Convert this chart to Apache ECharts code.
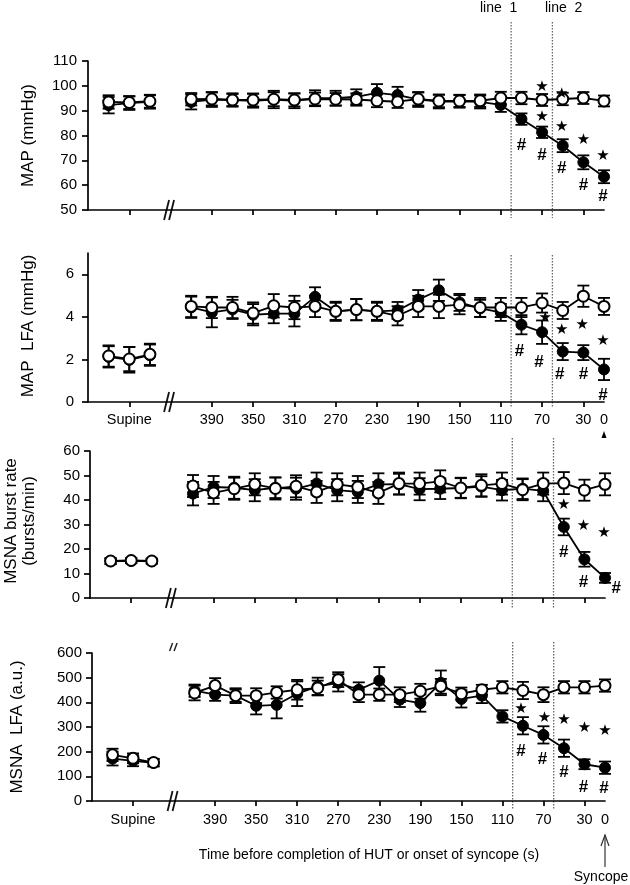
<!DOCTYPE html>
<html><head><meta charset="utf-8">
<script src="https://cdn.jsdelivr.net/npm/echarts@6/dist/echarts.min.js"></script>
<style>html,body{margin:0;padding:0;background:#fff}#c{width:630px;height:885px}</style>
</head><body><div id="c"></div>
<script>
// ---------- categories / ticks ----------
const supineSlots = [490, 470, 450];
const tiltLabels = ['410','390','370','350','330','310','290','270','250','230','210','190','170','150','130','110','90','70','50','30','0'];
const xTickValues = [470, 390, 350, 310, 270, 230, 190, 150, 110, 70, 30];
const xLabelValues = [470, 390, 350, 310, 270, 230, 190, 150, 110, 70, 30, 10];
const refLineSlots = [100, 60];
const breakSlot = 430;

// ---------- MAP (mmHg) ----------
const mapSupOpen = [93.5, 93.3, 93.8];
const mapSupFilled = [92.2, 93.0, 93.5];
const mapSupOpenErr = [2.7, 2.6, 2.6];
const mapSupFilledErr = [3.3, 2.7, 2.7];
const mapOpen = [94.6, 94.7, 94.3, 94.3, 94.6, 94.3, 94.7, 94.6, 94.5, 94.0, 93.6, 94.7, 93.9, 93.9, 94.0, 95.1, 95.1, 94.3, 94.7, 95.1, 93.9];
const mapFilled = [93.5, 94.5, 94.3, 94.0, 94.5, 94.0, 95.0, 95.0, 95.6, 97.2, 96.3, 94.5, 93.7, 93.8, 93.5, 92.3, 86.6, 81.3, 75.9, 69.2, 63.4];
const mapOpenErr = [2.5, 2.6, 2.4, 2.6, 2.8, 2.6, 2.6, 2.5, 2.5, 2.6, 2.5, 2.6, 2.5, 2.4, 2.5, 2.5, 2.5, 2.4, 2.5, 2.4, 2.2];
const mapFilledErr = [3.0, 3.0, 2.7, 2.8, 3.5, 3.0, 3.2, 3.0, 3.0, 3.5, 3.3, 3.0, 2.8, 2.6, 2.6, 2.8, 2.3, 2.3, 2.6, 2.8, 2.6];
const mapStars = [[70, 99.5], [51, 96.7], [70, 87.6], [51, 83.5], [30, 78.2], [11, 71.9]];
const mapHashes = [[90, 76.2], [70, 71.9], [51, 66.8], [30, 60.1], [11, 55.4]];

// ---------- MAP LFA (mmHg) ----------
const lfaSupOpen = [2.16, 2.02, 2.24];
const lfaSupFilled = [2.12, 1.98, 2.2];
const lfaSupOpenErr = [0.5, 0.57, 0.5];
const lfaSupFilledErr = [0.5, 0.6, 0.5];
const lfaOpen = [4.49, 4.44, 4.44, 4.18, 4.52, 4.44, 4.49, 4.26, 4.34, 4.26, 4.05, 4.49, 4.49, 4.57, 4.44, 4.44, 4.44, 4.65, 4.30, 4.97, 4.49];
const lfaFilled = [4.45, 4.21, 4.35, 4.10, 4.15, 4.15, 4.94, 4.26, 4.34, 4.26, 4.30, 4.81, 5.25, 4.68, 4.40, 4.21, 3.63, 3.28, 2.37, 2.32, 1.53];
const lfaOpenErr = [0.5, 0.5, 0.5, 0.5, 0.55, 0.55, 0.5, 0.45, 0.5, 0.45, 0.45, 0.5, 0.55, 0.45, 0.45, 0.45, 0.45, 0.45, 0.4, 0.5, 0.4];
const lfaFilledErr = [0.5, 0.7, 0.45, 0.5, 0.45, 0.6, 0.45, 0.4, 0.5, 0.4, 0.4, 0.45, 0.5, 0.4, 0.4, 0.4, 0.45, 0.55, 0.4, 0.35, 0.5];
const lfaStars = [[67, 3.94], [51, 3.36], [31, 3.63], [11, 2.88]];
const lfaHashes = [[92, 2.40], [73, 1.86], [53, 1.30], [30, 1.30], [11, 0.32]];

// ---------- MSNA burst rate (bursts/min) ----------
const brSupOpen = [15.1, 15.3, 15.1];
const brSupFilled = [15.0, 15.2, 15.0];
const brSupOpenErr = [1.2, 1.0, 1.0];
const brSupFilledErr = [1.2, 1.0, 1.0];
const brOpen = [45.7, 42.9, 44.6, 46.4, 44.7, 45.6, 43.3, 46.4, 45.3, 42.9, 46.7, 46.7, 47.6, 44.9, 46.0, 46.7, 44.2, 46.7, 46.9, 44.0, 46.4];
const brFilled = [42.6, 45.3, 45.0, 44.0, 45.0, 44.6, 46.7, 44.0, 43.3, 46.4, 46.5, 44.4, 44.6, 44.9, 45.5, 44.0, 44.6, 43.7, 29.0, 15.8, 8.2];
const brOpenErr = [4.5, 4.5, 4.5, 4.5, 4.5, 4.5, 4.5, 4.5, 4.5, 4.5, 4.5, 4.5, 4.5, 4.2, 4.5, 4.5, 4.3, 4.5, 4.5, 4.3, 4.5];
const brFilledErr = [4.8, 4.5, 4.5, 4.5, 4.2, 4.5, 4.5, 4.5, 4.5, 4.5, 4.2, 4.5, 4.2, 4.0, 4.2, 4.2, 4.2, 4.2, 3.4, 3.0, 2.0];
const brStars = [[50, 37.8], [31, 29.3], [11, 26.5]];
const brHashes = [[50, 18.8], [31, 6.5], [-1, 3.8]];

// ---------- MSNA LFA (a.u.) ----------
const mlSupOpen = [187, 173, 156];
const mlSupFilled = [172, 163, 155];
const mlSupOpenErr = [25, 20, 15];
const mlSupFilledErr = [28, 22, 15];
const mlOpen = [438, 468, 427, 427, 440, 451, 458, 492, 431, 431, 431, 445, 465, 435, 451, 461, 448, 431, 461, 461, 468];
const mlFilled = [447, 431, 427, 386, 390, 435, 465, 479, 451, 488, 411, 397, 479, 414, 427, 343, 305, 268, 214, 149, 135];
const mlOpenErr = [30, 30, 25, 30, 25, 40, 30, 30, 30, 25, 30, 30, 30, 25, 20, 25, 35, 30, 25, 25, 25];
const mlFilledErr = [25, 25, 30, 35, 55, 50, 35, 35, 30, 55, 30, 35, 50, 35, 30, 25, 35, 35, 35, 20, 25];
const mlStars = [[92, 373], [69, 336], [50, 329], [30, 296], [10, 282]];
const mlHashes = [[92, 203], [71, 167], [50, 115], [31, 56], [11, 52]];

// ---------- build ----------
const FONT = '"Liberation Sans", Arial, Helvetica, sans-serif';
const tiltSlots = tiltLabels.map((_, i) => 410 - 20 * i);

const panels = [
  { so: mapSupOpen, sf: mapSupFilled, soe: mapSupOpenErr, sfe: mapSupFilledErr,
    o: mapOpen, f: mapFilled, oe: mapOpenErr, fe: mapFilledErr, stars: mapStars, hashes: mapHashes,
    y: { min: 50, max: 110, interval: 10 }, labels: false, labelMargin: 11, xMargin: 10,
    grid: { left: 88, right: 26, top: 61, height: 149 } },
  { so: lfaSupOpen, sf: lfaSupFilled, soe: lfaSupOpenErr, sfe: lfaSupFilledErr,
    o: lfaOpen, f: lfaFilled, oe: lfaOpenErr, fe: lfaFilledErr, stars: lfaStars, hashes: lfaHashes,
    y: { min: 0, max: 7, custom: [0, 2, 4, 6] }, labels: true, labelMargin: 14, xMargin: 10,
    grid: { left: 88, right: 26, top: 253, height: 149 } },
  { so: brSupOpen, sf: brSupFilled, soe: brSupOpenErr, sfe: brSupFilledErr,
    o: brOpen, f: brFilled, oe: brOpenErr, fe: brFilledErr, stars: brStars, hashes: brHashes,
    y: { min: 0, max: 60, interval: 10 }, labels: false, labelMargin: 10, xMargin: 10,
    grid: { left: 90, right: 25, top: 451, height: 147 } },
  { so: mlSupOpen, sf: mlSupFilled, soe: mlSupOpenErr, sfe: mlSupFilledErr,
    o: mlOpen, f: mlFilled, oe: mlOpenErr, fe: mlFilledErr, stars: mlStars, hashes: mlHashes,
    y: { min: 0, max: 600, interval: 100 }, labels: true, labelMargin: 10, xMargin: 11,
    grid: { left: 92, right: 25, top: 653, height: 148 } }
];

const grids = [], xAxes = [], yAxes = [], series = [];

function errRender(params, api) {
  const x = api.value(0), y = api.value(1), e = api.value(2);
  const t = api.coord([x, y + e]), b = api.coord([x, y - e]);
  const w = 6, st = { stroke: '#000', lineWidth: 1.8 };
  return { type: 'group', children: [
    { type: 'line', shape: { x1: t[0], y1: t[1], x2: b[0], y2: b[1] }, style: st },
    { type: 'line', shape: { x1: t[0] - w, y1: t[1], x2: t[0] + w, y2: t[1] }, style: st },
    { type: 'line', shape: { x1: b[0] - w, y1: b[1], x2: b[0] + w, y2: b[1] }, style: st }
  ]};
}
function annRender(params, api) {
  const p = api.coord([api.value(0), api.value(1)]);
  const star = api.value(2) === 0;
  return { type: 'text', x: p[0], y: p[1], style: {
    text: star ? '★' : '#', fontSize: star ? 15 : 17, fontWeight: star ? 'normal' : 'bold',
    fontFamily: star ? '"DejaVu Sans", sans-serif' : FONT,
    fill: '#000', align: 'center', verticalAlign: 'middle' } };
}

panels.forEach((p, k) => {
  grids.push(Object.assign({ outerBoundsMode: 'none', containLabel: false }, p.grid));
  xAxes.push({
    type: 'value', gridIndex: k, min: 10, max: 510, inverse: true,
    axisLine: { show: true, onZero: false, lineStyle: { color: '#000', width: 1.7 } },
    axisTick: { show: true, length: 5, inside: false, customValues: xTickValues, lineStyle: { color: '#000', width: 1.7 } },
    axisLabel: { show: p.labels, customValues: xLabelValues, margin: p.xMargin, color: '#000',
      fontFamily: FONT, fontSize: 14.5,
      formatter: v => v === 470 ? 'Supine' : (v === 10 ? '0' : String(v)) },
    splitLine: { show: false }
  });
  const ya = {
    type: 'value', gridIndex: k, min: p.y.min, max: p.y.max,
    axisLine: { show: true, lineStyle: { color: '#000', width: 1.7 } },
    axisTick: { show: true, length: 6, lineStyle: { color: '#000', width: 1.7 } },
    axisLabel: { margin: p.labelMargin, color: '#000', fontFamily: FONT, fontSize: 15 },
    splitLine: { show: false }
  };
  if (p.y.interval) ya.interval = p.y.interval;
  if (p.y.custom) { ya.axisTick.customValues = p.y.custom; ya.axisLabel.customValues = p.y.custom; }
  yAxes.push(ya);

  const sup = (arr) => supineSlots.map((x, i) => [x, arr[i]]);
  const tilt = (arr) => tiltSlots.map((x, i) => [x, arr[i]]);
  const errData = (sv, se, tv, te) =>
    supineSlots.map((x, i) => [x, sv[i], se[i]]).concat(tiltSlots.map((x, i) => [x, tv[i], te[i]]));

  series.push({ type: 'custom', xAxisIndex: k, yAxisIndex: k, z: 2, silent: true,
    renderItem: errRender, data: errData(p.sf, p.sfe, p.f, p.fe) });
  series.push({ type: 'custom', xAxisIndex: k, yAxisIndex: k, z: 2, silent: true,
    renderItem: errRender, data: errData(p.so, p.soe, p.o, p.oe) });

  const lineBase = { type: 'line', xAxisIndex: k, yAxisIndex: k, symbol: 'circle', symbolSize: 11,
    lineStyle: { color: '#000', width: 1.8 }, silent: true, emphasis: { disabled: true } };
  const filledStyle = { color: '#000', borderColor: '#000', borderWidth: 1 };
  const openStyle = { color: '#fff', borderColor: '#000', borderWidth: 2 };
  series.push(Object.assign({}, lineBase, { z: 3, itemStyle: filledStyle, data: sup(p.sf) }));
  series.push(Object.assign({}, lineBase, { z: 3, itemStyle: filledStyle, data: tilt(p.f) }));
  series.push(Object.assign({}, lineBase, { z: 4, itemStyle: openStyle, data: sup(p.so) }));
  series.push(Object.assign({}, lineBase, { z: 4, itemStyle: openStyle, data: tilt(p.o) }));

  series.push({ type: 'custom', xAxisIndex: k, yAxisIndex: k, z: 5, silent: true, clip: false,
    renderItem: annRender,
    data: p.stars.map(s => [s[0], s[1], 0]).concat(p.hashes.map(h => [h[0], h[1], 1])) });
});

const chart = echarts.init(document.getElementById('c'), null, { renderer: 'canvas' });
chart.setOption({ animation: false, backgroundColor: '#fff', grid: grids, xAxis: xAxes, yAxis: yAxes, series: series });

// ---------- decorations ----------
const g = [];
const txt = (text, x, y, opts) => Object.assign({ type: 'text', x: x, y: y, silent: true,
  style: Object.assign({ text: text, fontSize: 14, fontFamily: FONT, fill: '#000', align: 'center', verticalAlign: 'middle' }, opts || {}) });

// y-axis titles
const yTitles = [
  { t: 'MAP (mmHg)', x: 28, y: 135.5 },
  { t: 'MAP  LFA (mmHg)', x: 28, y: 326 },
  { t: 'MSNA burst rate', x: 11, y: 521 },
  { t: '(bursts/min)', x: 29, y: 521 },
  { t: 'MSNA  LFA (a.u.)', x: 17, y: 727 }
];
yTitles.forEach(o => g.push(Object.assign(txt(o.t, o.x, o.y, { fontSize: 17 }), { rotation: Math.PI / 2 })));

// dotted reference lines
const dotTop = [22, 255, 438, 642], dotBottom = [218, 408, 608, 810];
panels.forEach((p, k) => {
  refLineSlots.forEach(s => {
    const px = chart.convertToPixel({ gridIndex: k }, [s, p.y.min])[0];
    g.push({ type: 'line', silent: true, shape: { x1: px, y1: dotTop[k], x2: px, y2: dotBottom[k] },
      style: { stroke: '#666', lineWidth: 1.3, lineDash: [1.4, 1.6] } });
  });
  // axis break marks
  const b = chart.convertToPixel({ gridIndex: k }, [breakSlot, p.y.min]);
  [-4, 1].forEach(dx => g.push({ type: 'line', silent: true,
    shape: { x1: b[0] + dx - 2.5, y1: b[1] + 10, x2: b[0] + dx + 2.5, y2: b[1] - 10 },
    style: { stroke: '#111', lineWidth: 1.8 } }));
});
// small break mark above panel 4
{
  const b = chart.convertToPixel({ gridIndex: 3 }, [breakSlot, 600]);
  [-3, 1.5].forEach(dx => g.push({ type: 'line', silent: true,
    shape: { x1: b[0] + dx - 1.5, y1: b[1] - 2, x2: b[0] + dx + 1.5, y2: b[1] - 10 },
    style: { stroke: '#222', lineWidth: 1.5 } }));
}
// "line 1", "line 2"
g.push(txt('line  1', 480, 8, { align: 'left' }));
g.push(txt('line  2', 545, 8, { align: 'left' }));

// small arrow under 0 in panel 2
{
  const px = chart.convertToPixel({ gridIndex: 1 }, [10, 0])[0];
  g.push({ type: 'polygon', silent: true, shape: { points: [[px, 431], [px - 2.5, 438], [px + 2.5, 438]] }, style: { fill: '#000' } });
}
// x-axis title
g.push(txt('Time before completion of HUT or onset of syncope (s)', 369, 855, { fontSize: 14 }));
// syncope arrow
{
  const px = chart.convertToPixel({ gridIndex: 3 }, [10, 0])[0];
  g.push({ type: 'line', silent: true, shape: { x1: px, y1: 835, x2: px, y2: 867 }, style: { stroke: '#333', lineWidth: 1.2 } });
  g.push({ type: 'polyline', silent: true, shape: { points: [[px - 4, 846], [px, 835], [px + 4, 846]] }, style: { stroke: '#333', lineWidth: 1.2, fill: null } });
  g.push(txt('Syncope', 601, 877, { fontSize: 14 }));
}
chart.setOption({ graphic: g });
</script></body></html>
